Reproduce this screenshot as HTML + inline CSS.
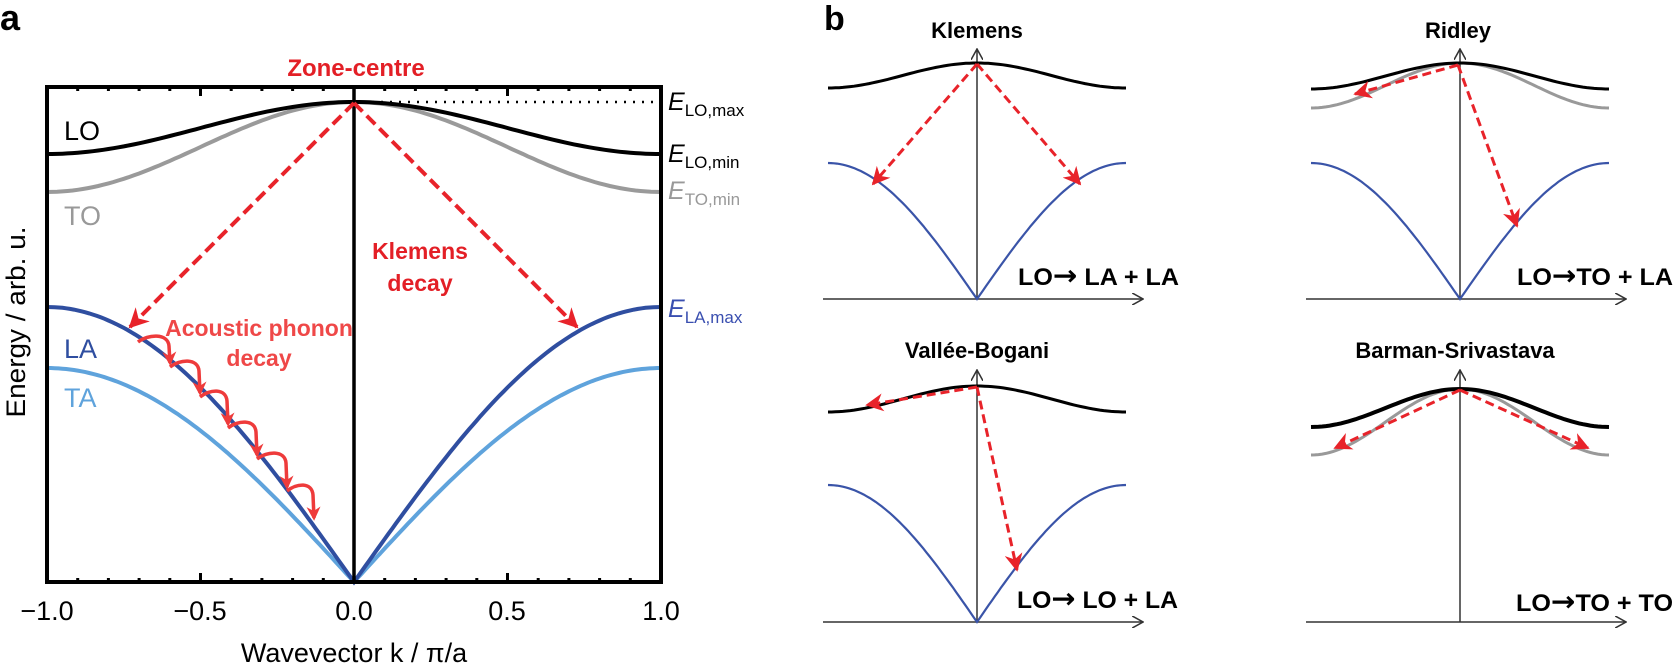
<!DOCTYPE html>
<html><head><meta charset="utf-8"><style>
html,body{margin:0;padding:0;background:#fff}
svg{display:block}
text{font-family:"Liberation Sans",Arial,sans-serif}
</style></head><body>
<svg id="s" width="1675" height="669" viewBox="0 0 1675 669" xmlns="http://www.w3.org/2000/svg">
<defs>
<marker id="ra" viewBox="0 0 10 10" refX="9" refY="5" markerWidth="5" markerHeight="5" orient="auto" markerUnits="strokeWidth"><path d="M0,0 L10,5 L0,10 L3,5 z" fill="#e8232a"/></marker>
<marker id="rb" viewBox="0 0 10 10" refX="9" refY="5" markerWidth="6" markerHeight="6" orient="auto" markerUnits="strokeWidth"><path d="M0,0 L10,5 L0,10 L3,5 z" fill="#e8232a"/></marker>
<marker id="rw" viewBox="0 0 10 10" refX="8" refY="5" markerWidth="4" markerHeight="4" orient="auto" markerUnits="strokeWidth"><path d="M0,0 L10,5 L0,10 L3,5 z" fill="#ee3b3b"/></marker>
<marker id="ax" viewBox="0 0 10 10" refX="9" refY="5" markerWidth="8" markerHeight="8" orient="auto" markerUnits="strokeWidth"><path d="M0,0 L9,5 L0,10" fill="none" stroke="#333" stroke-width="1.3"/></marker>
</defs>
<g id="g"></g>
<!-- Panel a text -->
<text x="0" y="30" font-size="36" font-weight="bold">a</text>
<text x="356" y="76" font-size="24" font-weight="bold" fill="#e31f26" text-anchor="middle">Zone-centre</text>
<text x="420" y="259" font-size="23" font-weight="bold" fill="#e31f26" text-anchor="middle">Klemens</text>
<text x="420" y="291" font-size="23" font-weight="bold" fill="#e31f26" text-anchor="middle">decay</text>
<text x="259" y="336" font-size="23" font-weight="bold" fill="#ef4848" text-anchor="middle">Acoustic phonon</text>
<text x="259" y="366" font-size="23" font-weight="bold" fill="#ef4848" text-anchor="middle">decay</text>
<text x="64" y="140" font-size="27">LO</text>
<text x="64" y="225" font-size="27" fill="#999">TO</text>
<text x="64" y="358" font-size="27" fill="#2f4ea0">LA</text>
<text x="64" y="407" font-size="27" fill="#5fa3dc">TA</text>
<text x="668" y="110" font-size="25" font-style="italic">E<tspan font-size="17" font-style="normal" dy="6">LO,max</tspan></text>
<text x="668" y="162" font-size="25" font-style="italic">E<tspan font-size="17" font-style="normal" dy="6">LO,min</tspan></text>
<text x="668" y="199" font-size="25" font-style="italic" fill="#999">E<tspan font-size="17" font-style="normal" dy="6">TO,min</tspan></text>
<text x="668" y="317" font-size="25" font-style="italic" fill="#3a4fb0">E<tspan font-size="17" font-style="normal" dy="6">LA,max</tspan></text>
<g font-size="27" text-anchor="middle">
<text x="47" y="620">−1.0</text><text x="200" y="620">−0.5</text><text x="354" y="620">0.0</text><text x="507" y="620">0.5</text><text x="661" y="620">1.0</text>
</g>
<text x="354" y="662" font-size="27" text-anchor="middle">Wavevector k / π/a</text>
<text transform="translate(25,322) rotate(-90)" font-size="27" text-anchor="middle" textLength="191" lengthAdjust="spacingAndGlyphs">Energy / arb. u.</text>
<!-- Panel b text -->
<text x="824" y="30" font-size="34" font-weight="bold">b</text>
<g font-size="22" font-weight="bold" text-anchor="middle">
<text x="977" y="38">Klemens</text>
<text x="1458" y="38">Ridley</text>
<text x="977" y="358">Vallée-Bogani</text>
<text x="1455" y="358">Barman-Srivastava</text>
</g>
<g font-size="24" font-weight="bold">
<text x="1018" y="285" textLength="161" lengthAdjust="spacingAndGlyphs">LO<tspan font-family="DejaVu Sans" font-size="28">→</tspan> LA + LA</text>
<text x="1517" y="285" textLength="156" lengthAdjust="spacingAndGlyphs">LO<tspan font-family="DejaVu Sans" font-size="28">→</tspan>TO + LA</text>
<text x="1017" y="608" textLength="161" lengthAdjust="spacingAndGlyphs">LO<tspan font-family="DejaVu Sans" font-size="28">→</tspan> LO + LA</text>
<text x="1516" y="611" textLength="157" lengthAdjust="spacingAndGlyphs">LO<tspan font-family="DejaVu Sans" font-size="28">→</tspan>TO + TO</text>
</g>
</svg>
<script>
(function(){
var g=document.getElementById('g'),NS='http://www.w3.org/2000/svg';
function el(t,a){var e=document.createElementNS(NS,t);for(var k in a)e.setAttribute(k,a[k]);g.appendChild(e);return e;}
function curve(f,x0,x1,n){var d='';for(var i=0;i<=n;i++){var x=x0+(x1-x0)*i/n;d+=(i?'L':'M')+x.toFixed(1)+','+f(x).toFixed(1);}return d;}
var cx=354,hw=307,L=47,R=661,T=87,B=582;
function opt(peak,edge){return function(x){var k=(x-cx)/hw;return peak+(edge-peak)*(1-Math.cos(Math.PI*k))/2;};}
function ac(base,edge){return function(x){var k=Math.abs((x-cx)/hw);return base-(base-edge)*Math.sin(Math.PI*k/2);};}
el('line',{x1:cx,y1:102,x2:R,y2:102,stroke:'#000','stroke-width':2.5,'stroke-dasharray':'2,7'});
el('path',{d:curve(opt(102,192),L,R,120),fill:'none',stroke:'#9a9a9a','stroke-width':4});
el('path',{d:curve(opt(102,154),L,R,120),fill:'none',stroke:'#000','stroke-width':4});
el('path',{d:curve(ac(582,368),L,R,160),fill:'none',stroke:'#5fa3dc','stroke-width':4});
el('path',{d:curve(ac(582,307),L,R,160),fill:'none',stroke:'#2f4ea0','stroke-width':4});
el('line',{x1:cx,y1:T,x2:cx,y2:B,stroke:'#000','stroke-width':3.5});
el('rect',{x:L,y:T,width:R-L,height:B-T,fill:'none',stroke:'#000','stroke-width':4});
for(var i=-10;i<=10;i++){var x=cx+hw*i/10,len=(i%5==0)?9:4;
 el('line',{x1:x,y1:T,x2:x,y2:T+len,stroke:'#000','stroke-width':3});
 el('line',{x1:x,y1:B,x2:x,y2:B-len,stroke:'#000','stroke-width':3});}
el('line',{x1:cx,y1:103,x2:130,y2:327,stroke:'#e8232a','stroke-width':4,'stroke-dasharray':'12,6','marker-end':'url(#ra)'});
el('line',{x1:cx,y1:103,x2:577,y2:327,stroke:'#e8232a','stroke-width':4,'stroke-dasharray':'12,6','marker-end':'url(#ra)'});
var heads=[[170,363],[200,393],[228,424],[257,455],[287,487],[314,518]];
var sx=138,sy=342;
for(var j=0;j<heads.length;j++){var hx=heads[j][0],hy=heads[j][1];
 var d='M'+sx+','+sy+' C'+(sx+10)+','+(sy-8)+' '+(hx-2)+','+(sy-9)+' '+(hx-1)+','+(sy+4)+' L'+hx+','+hy;
 el('path',{d:d,fill:'none',stroke:'#ee3b3b','stroke-width':3.5,'stroke-linejoin':'round','marker-end':'url(#rw)'});
 sx=hx;sy=hy+4;}
function sub(c,axY,topY,peak,edgeLO,edgeTO,edgeLA){
 el('line',{x1:c-154,y1:axY,x2:c+166,y2:axY,stroke:'#333','stroke-width':1.5,'marker-end':'url(#ax)'});
 el('line',{x1:c,y1:axY,x2:c,y2:topY,stroke:'#333','stroke-width':1.5,'marker-end':'url(#ax)'});
 var h=149;
 function o(p,e){return function(x){var k=(x-c)/h;return p+(e-p)*(1-Math.cos(Math.PI*k))/2;};}
 if(edgeTO)el('path',{d:curve(o(peak,edgeTO),c-h,c+h,80),fill:'none',stroke:'#999','stroke-width':3});
 el('path',{d:curve(o(peak,edgeLO),c-h,c+h,80),fill:'none',stroke:'#000','stroke-width':edgeTO&&axY>400?4:3});
 if(edgeLA)el('path',{d:curve(function(x){var k=Math.abs((x-c)/h);return axY-(axY-edgeLA)*Math.sin(Math.PI*k/2);},c-h,c+h,100),fill:'none',stroke:'#3a54a8','stroke-width':2.2});
}
function arr(x1,y1,x2,y2){el('line',{x1:x1,y1:y1,x2:x2,y2:y2,stroke:'#e8232a','stroke-width':3,'stroke-dasharray':'9,5','marker-end':'url(#rb)'});}
sub(977,299,49,63,88,0,163);
arr(977,64,873,184);arr(977,64,1080,184);
sub(1460,299,49,63,89,108,163);
arr(1458,65,1355,94);arr(1458,65,1517,226);
sub(977,622,370,386,412,0,485);
arr(977,387,867,405);arr(977,387,1017,570);
sub(1460,622,370,389,427,455,0);
arr(1460,390,1335,448);arr(1460,390,1588,448);
})();
</script>
</body></html>
